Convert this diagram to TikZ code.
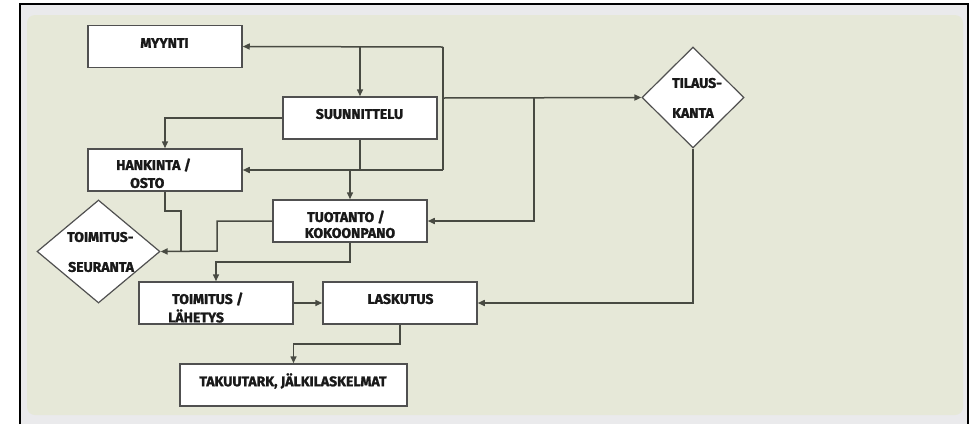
\documentclass[tikz,border=0pt]{standalone}
\usepackage{fontspec}
\setmainfont{Fira Sans}[BoldFeatures={FakeBold=1.5}]
\usetikzlibrary{arrows.meta,shapes.geometric}
\definecolor{beige}{RGB}{230,232,216}
\definecolor{band}{RGB}{234,234,236}
\definecolor{ln}{RGB}{72,74,66}
\definecolor{bx}{RGB}{80,80,80}
\tikzset{
  box/.style={draw=bx,line width=1.5pt,fill=white,minimum width=154pt,minimum height=42pt,inner sep=0pt},
  dia/.style={draw=bx,line width=1.2pt,fill=white,diamond,inner sep=0pt},
  lbl/.style={font=\fontsize{14}{16}\bfseries\selectfont,inner sep=0pt,text=black!90},
  conn/.style={draw=ln,line width=1.5pt},
  arr/.style={conn,-{Triangle[length=7pt,width=6pt]}},
}
\begin{document}
\begin{tikzpicture}[x=1pt,y=-1pt]
\useasboundingbox (0,0) rectangle (975,424);
% frame
\fill[band] (21,5) rectangle (967,424);
\fill[beige,rounded corners=8pt] (27,15) rectangle (963,415);
\draw[black,line width=2pt] (20,424) -- (20,4) -- (968,4) -- (968,424);
% boxes
\node[box] (MY) at (165,46.5) {};
\node[box] (SU) at (360,118) {};
\node[box] (HA) at (165,170) {};
\node[box] (TU) at (350,221) {};
\node[box] (TL) at (216,303) {};
\node[box] (LA) at (400,303) {};
\node[box,minimum width=227pt] (TA) at (293.5,385) {};
\node[dia,minimum width=102pt,minimum height=101pt] (TI) at (693,97.5) {};
\node[dia,minimum width=123pt,minimum height=103pt] (TS) at (98.5,251.5) {};
% texts
\node[lbl] (tMY) at (164.5,43) {MYYNTI};
\node[lbl] (tSU) at (359.5,114) {SUUNNITTELU};
\node[lbl,anchor=west] (tHA1) at (116,165) {HANKINTA /};
\node[lbl,anchor=west] (tHA2) at (130,183) {OSTO};
\node[lbl] (tTU1) at (346,217) {TUOTANTO /};
\node[lbl] (tTU2) at (350,233) {KOKOONPANO};
\node[lbl,anchor=west] (tTL1) at (172,299) {TOIMITUS /};
\node[lbl,anchor=west] (tTL2) at (168,316) {LÄHETYS};
\node[lbl] (tLA) at (400.5,299) {LASKUTUS};
\node[lbl] (tTA) at (293,381) {TAKUUTARK, JÄLKILASKELMAT};
\node[lbl,anchor=west] (tTI1) at (672,83) {TILAUS-};
\node[lbl,anchor=west] (tTI2) at (672,113) {KANTA};
\node[lbl,anchor=west] (tTS1) at (67,237) {TOIMITUS-};
\node[lbl,anchor=west] (tTS2) at (68,267) {SEURANTA};
% junction coordinates
\coordinate (cA) at (443,47);
\coordinate (cB) at (443,170);
\coordinate (cC) at (443,98);
\coordinate (cD) at (534,98);
\coordinate (cE) at (534,221);
\coordinate (cF) at (165,211);
\coordinate (cG) at (181,251);
\coordinate (cH) at (217,251);
\coordinate (cI) at (350,262);
\coordinate (cJ) at (400,344);
% connectors
\draw[conn] (cA) -- (cB);
\draw[arr] (cA) -- (MY.east);
\draw[arr] (SU.north |- cA) -- (SU.north);
\draw[arr] (cB) -- (HA.east);
\draw[conn] (SU.south) -- (SU.south |- cB);
\draw[arr] (TU.north |- cB) -- (TU.north);
\draw[arr] (cC) -- (TI.west);
\draw[arr] (cD) -- (cE) -- (TU.east);
\draw[arr] (SU.west) -| (HA.north);
\draw[conn] (HA.south) -- (cF) -| (cG);
\draw[arr] (TU.west) -| (cH) -- (TS.east);
\draw[arr] (TU.south) -- (cI) -| (TL.north);
\draw[arr] (TL.east) -- (LA.west);
\draw[arr] (TI.south) |- (LA.east);
\draw[arr] (LA.south) -- (cJ) -| (TA.north);
\end{tikzpicture}
\end{document}
